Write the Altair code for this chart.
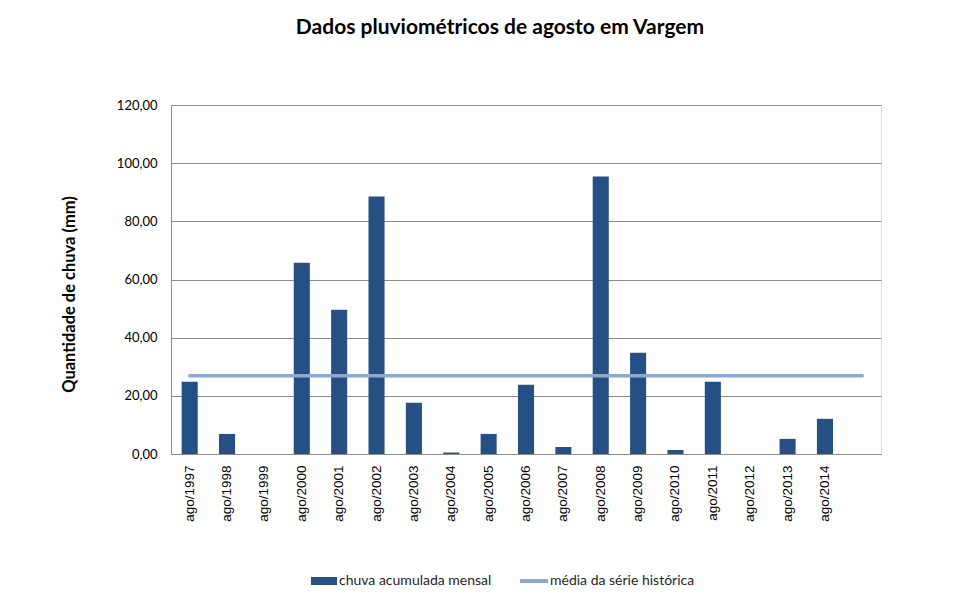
import altair as alt
import pandas as pd

categorias = ["ago/1997", "ago/1998", "ago/1999", "ago/2000", "ago/2001", "ago/2002",
              "ago/2003", "ago/2004", "ago/2005", "ago/2006", "ago/2007", "ago/2008",
              "ago/2009", "ago/2010", "ago/2011", "ago/2012", "ago/2013", "ago/2014", " "]
chuva = [24.8, 6.9, 0.0, 65.8, 49.6, 88.5, 17.6, 0.5, 6.9, 23.8, 2.4, 95.4,
         34.8, 1.4, 24.8, 0.0, 5.2, 12.1, None]
media_historica = 26.9
y_ticks = [0, 20, 40, 60, 80, 100, 120]

serie_barra = "chuva acumulada mensal"
serie_linha = "média da série histórica"

df = pd.DataFrame({
    "categoria": categorias,
    "chuva": chuva,
    "media": [media_historica] * len(categorias),
    "serie_barra": [serie_barra] * len(categorias),
    "serie_linha": [serie_linha] * len(categorias),
})

BAR = "#264F84"
LINE = "#8EA8D0"
GRID = "#8c8c8c"
FONT = "Lato"

x_enc = alt.X(
    "categoria:N",
    sort=categorias,
    scale=alt.Scale(domain=categorias, paddingInner=0.57, paddingOuter=0.285),
    axis=alt.Axis(title=None, labelAngle=270, labelFont="Liberation Sans", labelFontSize=13.5,
                  labelColor="#000000", labelPadding=11, ticks=False,
                  domainColor=GRID, labelOverlap=False),
)

y_enc = alt.Y(
    "chuva:Q",
    scale=alt.Scale(domain=[0, 120]),
    axis=alt.Axis(title="Quantidade de chuva (mm)", values=y_ticks,
                  labelExpr="replace(format(datum.value, '.2f'), '.', ',')",
                  labelFont=FONT, labelFontSize=13, labelColor="#000000", labelPadding=14,
                  ticks=False, domainColor=GRID, gridColor=GRID,
                  titleFont=FONT, titleFontSize=16.5, titleFontWeight="bold", titleColor="#000000",
                  titleAngle=270, titleX=-102, titleY=189, titleAlign="center",
                  titleBaseline="middle"),
)

bars = alt.Chart(df).mark_bar().encode(
    x=x_enc,
    y=y_enc,
    fill=alt.Fill("serie_barra:N",
                  scale=alt.Scale(domain=[serie_barra], range=[BAR]),
                  legend=alt.Legend(title=None, orient="none", legendX=145, legendY=468,
                                    symbolType="M-1.625,-0.5H1.625V0.5H-1.625Z",
                                    symbolSize=256, symbolStrokeWidth=0,
                                    labelOffset=7, labelFont=FONT, labelFontSize=14,
                                    labelColor="#262626", padding=0)),
)

line = alt.Chart(df).mark_line(strokeWidth=3.5, strokeCap="round").encode(
    x=alt.X("categoria:N", sort=categorias),
    y=alt.Y("media:Q"),
    stroke=alt.Stroke("serie_linha:N",
                      scale=alt.Scale(domain=[serie_linha], range=[LINE]),
                      legend=alt.Legend(title=None, orient="none", legendX=347, legendY=460,
                                        symbolType="stroke", symbolSize=784,
                                        symbolStrokeWidth=4,
                                        labelOffset=0, labelFont=FONT, labelFontSize=14,
                                        labelColor="#262626", padding=0)),
)

chart = alt.layer(bars, line).properties(
    width=710,
    height=349,
    padding={"left": 163, "top": 97, "right": 71, "bottom": 135},
    autosize=alt.AutoSizeParams(type="none"),
    title=alt.TitleParams("Dados pluviométricos de agosto em Vargem", font=FONT, fontSize=21,
                          fontWeight="bold", color="#000000", anchor="middle", dx=-26,
                          baseline="alphabetic", offset=44),
).configure_view(stroke=None).configure(background="white")

chart.save("out.html", embed_options={"renderer": "svg", "actions": False})
